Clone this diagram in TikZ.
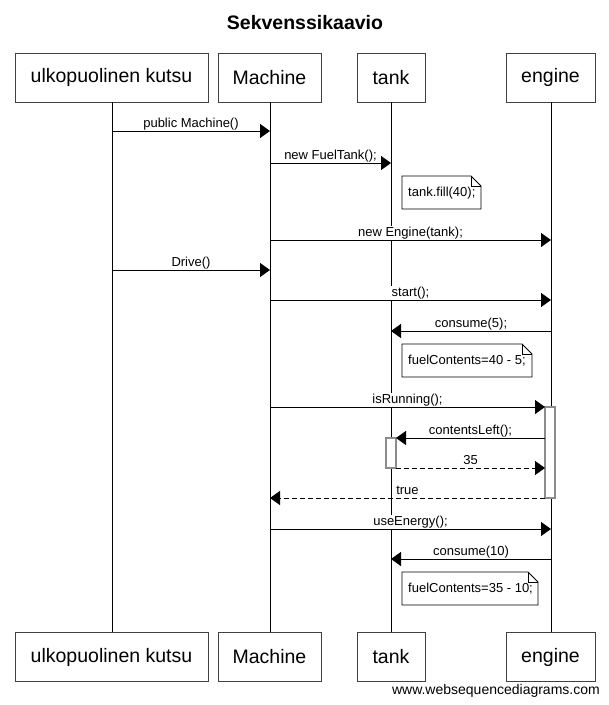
\documentclass[tikz,border=0pt]{standalone}
\usepackage{fontspec}
\setmainfont{Liberation Sans}
\usetikzlibrary{arrows.meta}
\begin{document}
\begin{tikzpicture}[x=1pt,y=-1pt,
  part/.style={draw=black!75, line width=1pt, minimum height=49pt, inner sep=0pt, font=\fontsize{19.5}{22}\selectfont},
  life/.style={draw=black, line width=1pt},
  msg/.style={draw=black, line width=1pt, -{Triangle[length=10pt,width=14pt]}},
  ret/.style={msg, dash pattern=on 5pt off 3pt},
  lbl/.style={anchor=base, fill=white, inner sep=1pt, font=\fontsize{13}{15}\selectfont},
  act/.style={draw=black!45, fill=white, line width=1.5pt},
  notebox/.style={draw=black, fill=white, line width=0.8pt},
  notetext/.style={anchor=west, inner sep=0pt, font=\fontsize{13}{15}\selectfont}
]
\useasboundingbox (0,0) rectangle (609,705);
\fill[white] (0,0) rectangle (609,705);

\node[font=\bfseries\fontsize{19.5}{22}\selectfont] (title) at (305,23) {Sekvenssikaavio};

% participants
\node[part, minimum width=193pt] (u1) at (111.5,77.5) {ulkopuolinen kutsu};
\node[part, minimum width=103pt] (m1) at (269.5,77.5) {Machine};
\node[part, minimum width=68pt] (t1) at (391,77.5) {tank};
\node[part, minimum width=89pt] (e1) at (550.5,77.5) {engine};
\node[part, minimum width=193pt] (u2) at (111.5,657) {ulkopuolinen kutsu};
\node[part, minimum width=103pt] (m2) at (269.5,657) {Machine};
\node[part, minimum width=68pt] (t2) at (391,657) {tank};
\node[part, minimum width=89pt] (e2) at (550.5,657) {engine};

% lifelines
\coordinate (uT) at (112,102); \coordinate (uB) at (112,632);
\coordinate (mT) at (270,102); \coordinate (mB) at (270,632);
\coordinate (tT) at (391,102); \coordinate (tB) at (391,632);
\coordinate (eT) at (551,102); \coordinate (eB) at (551,632);
\draw[life] (uT) -- (uB);
\draw[life] (mT) -- (mB);
\draw[life] (tT) -- (tB);
\draw[life] (eT) -- (eB);

% activations
\draw[act] (545,407) rectangle (555,498);
\draw[act] (386,438) rectangle (396,468);

% messages
\coordinate (a1) at (112,131); \coordinate (b1) at (270,131);
\draw[msg] (a1) -- node[lbl, yshift=4pt]{public Machine()} (b1);
\coordinate (a2) at (270,163); \coordinate (b2) at (391,163);
\draw[msg] (a2) -- node[lbl, yshift=4pt]{new FuelTank();} (b2);
\coordinate (a4) at (270,240); \coordinate (b4) at (551,240);
\draw[msg] (a4) -- node[lbl, yshift=4pt]{new Engine(tank);} (b4);
\coordinate (a5) at (112,270); \coordinate (b5) at (270,270);
\draw[msg] (a5) -- node[lbl, yshift=4pt]{Drive()} (b5);
\coordinate (a6) at (270,300); \coordinate (b6) at (551,300);
\draw[msg] (a6) -- node[lbl, yshift=4pt]{start();} (b6);
\coordinate (a7) at (551,331); \coordinate (b7) at (391,331);
\draw[msg] (a7) -- node[lbl, yshift=4pt]{consume(5);} (b7);
\coordinate (a9) at (270,407); \coordinate (b9) at (545,407);
\draw[msg] (a9) -- node[lbl, yshift=4pt]{isRunning();} (b9);
\coordinate (a10) at (545,438); \coordinate (b10) at (396,438);
\draw[msg] (a10) -- node[lbl, yshift=4pt]{contentsLeft();} (b10);
\coordinate (a11) at (396,468); \coordinate (b11) at (545,468);
\draw[ret] (a11) -- node[lbl, yshift=4pt]{35} (b11);
\coordinate (a12) at (545,498); \coordinate (b12) at (270,498);
\draw[ret] (a12) -- node[lbl, yshift=4pt]{true} (b12);
\coordinate (a13) at (270,529); \coordinate (b13) at (551,529);
\draw[msg] (a13) -- node[lbl, yshift=4pt]{useEnergy();} (b13);
\coordinate (a14) at (551,559); \coordinate (b14) at (391,559);
\draw[msg] (a14) -- node[lbl, yshift=4pt]{consume(10)} (b14);

% notes
\draw[notebox] (402,176) -- (471,176) -- (481,186) -- (481,209) -- (402,209) -- cycle;
\draw[line width=0.8pt] (471,176) -- (471,186) -- (481,186);
\node[notetext] (n1) at (408,193) {tank.fill(40);};

\draw[notebox] (402,344) -- (522,344) -- (532,354) -- (532,377) -- (402,377) -- cycle;
\draw[line width=0.8pt] (522,344) -- (522,354) -- (532,354);
\node[notetext] (n2) at (408,361) {fuelContents=40 - 5;};

\draw[notebox] (402,572) -- (528,572) -- (538,582) -- (538,605) -- (402,605) -- cycle;
\draw[line width=0.8pt] (528,572) -- (528,582) -- (538,582);
\node[notetext] (n3) at (408,589) {fuelContents=35 - 10;};

\node[anchor=base east, inner sep=0pt, font=\fontsize{14}{16}\selectfont] (wm) at (600,694) {www.websequencediagrams.com};
\end{tikzpicture}
\end{document}
